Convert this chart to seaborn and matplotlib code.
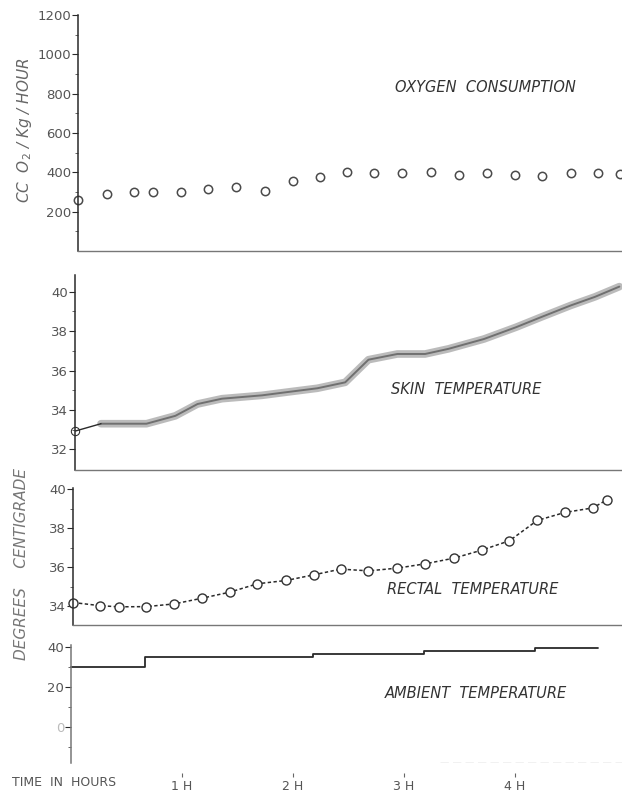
import matplotlib
matplotlib.use('Agg')
import matplotlib.pyplot as plt
import seaborn as sns

# oxygen consumption, cc O2 / kg / hour (open circles, about every 15 min)
oxy_time = [0.06, 0.32, 0.57, 0.74, 0.99, 1.23, 1.49, 1.75, 2.0, 2.24, 2.49,
            2.73, 2.98, 3.24, 3.5, 3.75, 4.0, 4.24, 4.5, 4.75, 4.95]
oxy_vals = [258, 290, 300, 298, 300, 315, 325, 305, 355, 375, 400,
            398, 398, 402, 385, 398, 385, 380, 395, 395, 390]

# skin temperature, deg C
skin_time = [0.04, 0.27, 0.68, 0.94, 1.14, 1.36, 1.72, 1.94, 2.22, 2.47,
             2.68, 2.94, 3.19, 3.40, 3.72, 4.01, 4.23, 4.50, 4.72, 4.94]
skin_vals = [32.93, 33.3, 33.3, 33.7, 34.3, 34.57, 34.74, 34.9, 35.1, 35.4,
             36.55, 36.84, 36.84, 37.1, 37.6, 38.2, 38.7, 39.3, 39.74, 40.26]

# rectal temperature, deg C
rect_time = [0.02, 0.26, 0.43, 0.68, 0.93, 1.18, 1.43, 1.68, 1.94, 2.19, 2.43,
             2.68, 2.94, 3.19, 3.45, 3.70, 3.95, 4.20, 4.45, 4.70, 4.83]
rect_vals = [34.19, 34.03, 33.97, 33.98, 34.12, 34.41, 34.72, 35.15, 35.32, 35.61, 35.9,
             35.81, 35.95, 36.17, 36.46, 36.87, 37.35, 38.39, 38.8, 39.03, 39.45]

# ambient temperature, deg C (stepped)
amb_time = [0.0, 0.67, 2.18, 3.18, 4.18, 4.75]
amb_vals = [30, 35, 36.5, 38, 39.5, 39.5]

hour_ticks = [1, 2, 3, 4]
hour_labels = ['1 H', '2 H', '3 H', '4 H']

sns.set_style('white')
plt.rcParams['font.family'] = ['DejaVu Sans']

W, H = 622, 793
T0_PX = 71          # pixel column of time zero
PX_PER_HOUR = 111
INK = '#2a2a2a'
GREY = '#555555'

fig = plt.figure(figsize=(W / 100, H / 100), dpi=100)
fig.patch.set_facecolor('white')


def add_panel(left, top, bottom, ylim):
    ax = fig.add_axes([left / W, 1 - bottom / H, (W - left) / W, (bottom - top) / H])
    ax.set_xlim((left - T0_PX) / PX_PER_HOUR, (W - T0_PX) / PX_PER_HOUR)
    ax.set_ylim(*ylim)
    ax.set_facecolor('none')
    for s in ['top', 'right']:
        ax.spines[s].set_visible(False)
    ax.spines['left'].set_color(INK)
    ax.spines['left'].set_linewidth(1.1)
    ax.spines['bottom'].set_color('#777777')
    ax.spines['bottom'].set_linewidth(1.0)
    ax.tick_params(axis='y', which='major', direction='out', length=4, width=0.8,
                   color=INK, labelsize=9.5, labelcolor=GREY, pad=1, left=True)
    ax.tick_params(axis='y', which='minor', direction='out', length=2.5, width=0.7,
                   color='#666666', left=True)
    ax.set_xticks([])
    return ax


def fig_text(x, y, s, **kw):
    fig.text(x / W, 1 - y / H, s, **kw)


# ---- oxygen consumption
ax1 = add_panel(78, 15, 251, (0, 1200))
ax1.set_yticks([200, 400, 600, 800, 1000, 1200])
ax1.set_yticks([100, 300, 500, 700, 900, 1100], minor=True)
sns.lineplot(x=oxy_time, y=oxy_vals, ax=ax1, linestyle='', marker='o', markersize=6,
             markerfacecolor='none', markeredgecolor='#4a4a4a', markeredgewidth=1.1,
             sort=False, clip_on=False)

# ---- skin temperature
ax2 = add_panel(75, 275, 470, (30.95, 40.85))
ax2.set_yticks([32, 34, 36, 38, 40])
ax2.set_yticks([33, 35, 37, 39], minor=True)
sns.lineplot(x=skin_time[1:], y=skin_vals[1:], ax=ax2, color='#b0b0b0', linewidth=5.5,
             alpha=0.85, sort=False, clip_on=False)
sns.lineplot(x=skin_time[1:], y=skin_vals[1:], ax=ax2, color='#707070', linewidth=1.4,
             sort=False, clip_on=False)
sns.lineplot(x=skin_time[:2], y=skin_vals[:2], ax=ax2, color=INK, linewidth=1.0,
             sort=False, clip_on=False)
sns.lineplot(x=skin_time[:1], y=skin_vals[:1], ax=ax2, linestyle='', marker='o',
             markersize=6, markerfacecolor='none', markeredgecolor=INK, clip_on=False)

# ---- rectal temperature
ax3 = add_panel(73, 488, 625, (33.04, 40.05))
ax3.set_yticks([34, 36, 38, 40])
ax3.set_yticks([35, 37, 39], minor=True)
sns.lineplot(x=rect_time, y=rect_vals, ax=ax3, color=INK, linewidth=1.1,
             linestyle=(0, (2.2, 1.6)), marker='o', markersize=6.5,
             markerfacecolor='white', markeredgecolor='#333333', markeredgewidth=1.0,
             sort=False, clip_on=False)

# ---- ambient temperature
ax4 = add_panel(71, 645, 763, (-18, 41))
ax4.set_yticks([0, 20, 40])
ax4.set_yticklabels(['0', '20', '40'])
ax4.get_yticklabels()[0].set_color('#bbbbbb')
ax4.set_yticks([-10, 10, 30], minor=True)
sns.lineplot(x=amb_time, y=amb_vals, ax=ax4, color=INK, linewidth=1.3,
             drawstyle='steps-post', sort=False, clip_on=False)
ax4.spines['bottom'].set_visible(False)
ax4.spines['bottom'].set_position(('outward', 7))
ax4.spines['left'].set_color('#777777')
ax4.axhline(-18, xmin=0.67, xmax=1.0, color='#bbbbbb', linewidth=1.0, linestyle=(0, (6, 3)))
ax4.set_xticks(hour_ticks)
ax4.set_xticklabels(hour_labels)
ax4.tick_params(axis='x', direction='out', length=3, width=0.8, color='#666666',
                labelsize=9, labelcolor='#555555', pad=2, bottom=True)

# ---- panel titles and axis labels
title_kw = dict(fontsize=10.5, style='italic', color='#333333', ha='left', va='center')
fig_text(395, 88, 'OXYGEN  CONSUMPTION', **title_kw)
fig_text(391, 390, 'SKIN  TEMPERATURE', **title_kw)
fig_text(387, 590, 'RECTAL  TEMPERATURE', **title_kw)
fig_text(385, 694, 'AMBIENT  TEMPERATURE', **title_kw)

fig_text(25, 130, 'CC  O$_2$ / Kg / HOUR', fontsize=11, style='italic', color='#666666',
         rotation=90, ha='center', va='center')
fig_text(22, 564, 'DEGREES    CENTIGRADE', fontsize=11, style='italic', color='#777777',
         rotation=90, ha='center', va='center')
fig_text(12, 783, 'TIME  IN  HOURS', fontsize=9, color='#555555', ha='left', va='center')

fig.savefig('out.png', dpi=100, facecolor='white')
